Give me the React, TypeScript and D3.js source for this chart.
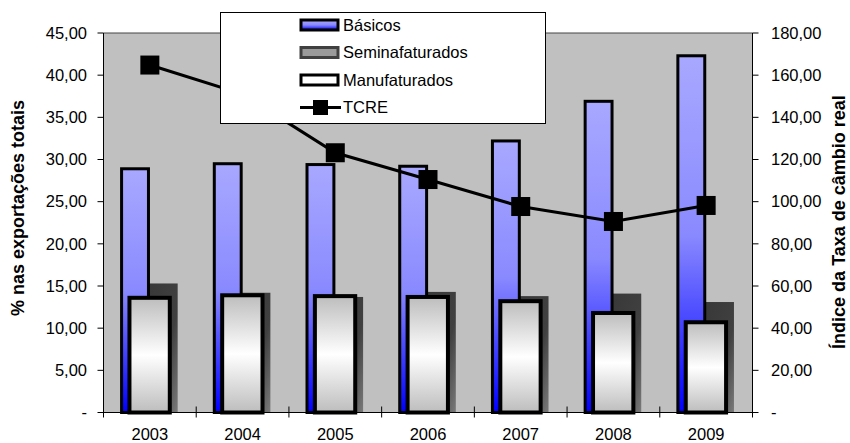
import { useMemo } from "react";
import * as d3 from "d3";

const years = ["2003", "2004", "2005", "2006", "2007", "2008", "2009"];
const basicos = [28.9, 29.5, 29.4, 29.2, 32.2, 36.9, 42.3];
const semi = [15.3, 14.2, 13.7, 14.3, 13.8, 14.1, 13.1];
const manu = [13.6, 13.9, 13.8, 13.7, 13.2, 11.8, 10.7];
const tcre = [164.8, 151, 123.2, 110.5, 97.7, 90.6, 98.2];

const leftTicks = [0, 5, 10, 15, 20, 25, 30, 35, 40, 45];
const rightTicks = [0, 20, 40, 60, 80, 100, 120, 140, 160, 180];
const legendItems = ["Básicos", "Seminafaturados", "Manufaturados", "TCRE"];

const W = 850;
const H = 443;
const PLOT = { left: 103.5, right: 752.5, top: 33, bottom: 412.5 };
const FONT = "'Liberation Sans', Arial, sans-serif";
const FS = 16.5;

const fmt = (v: number) => (v === 0 ? "-" : d3.format(",.2f")(v).replace(".", ","));

const App = () => {
    const x = useMemo(
        () => d3.scaleBand<string>().domain(years).range([PLOT.left, PLOT.right]).padding(0),
        []
    );
    const yL = useMemo(() => d3.scaleLinear().domain([0, 45]).range([PLOT.bottom, PLOT.top]), []);
    const yR = useMemo(() => d3.scaleLinear().domain([0, 180]).range([PLOT.bottom, PLOT.top]), []);
    const bw = x.bandwidth();

    const line = d3
        .line<number>()
        .x((_, i) => (x(years[i]) as number) + bw / 2)
        .y((d) => yR(d));

    // bar offsets inside each band (fractions of band width)
    const bas = { a: 0.195, b: 0.485 };
    const sem = { a: 0.48, b: 0.8 };
    const man = { a: 0.28, b: 0.715 };

    return (
        <svg width={W} height={H} style={{ position: "absolute", left: 0, top: 0, fontFamily: FONT }}>
            <defs>
                <linearGradient id="gBas" x1="0" y1="0" x2="0" y2="1">
                    <stop offset="0" stopColor="#a8a8ff" />
                    <stop offset="0.5" stopColor="#8a8aff" />
                    <stop offset="1" stopColor="#0000ff" />
                </linearGradient>
                <linearGradient id="gSem" x1="0" y1="0" x2="1" y2="1">
                    <stop offset="0" stopColor="#383838" />
                    <stop offset="0.6" stopColor="#404040" />
                    <stop offset="1" stopColor="#7a7a7a" />
                </linearGradient>
                <linearGradient id="gMan" x1="0" y1="0" x2="0" y2="1">
                    <stop offset="0" stopColor="#bdbdbd" />
                    <stop offset="0.5" stopColor="#ffffff" />
                    <stop offset="1" stopColor="#bdbdbd" />
                </linearGradient>
            </defs>

            <rect
                x={PLOT.left}
                y={PLOT.top}
                width={PLOT.right - PLOT.left}
                height={PLOT.bottom - PLOT.top}
                fill="#c0c0c0"
            />
            <line x1={PLOT.left} x2={PLOT.right} y1={PLOT.top} y2={PLOT.top} stroke="#444" strokeWidth={1} />

            {years.map((yr, i) => {
                const x0 = x(yr) as number;
                return (
                    <g key={yr}>
                        <rect
                            x={x0 + bw * sem.a}
                            y={yL(semi[i])}
                            width={bw * (sem.b - sem.a)}
                            height={PLOT.bottom - yL(semi[i])}
                            fill="url(#gSem)"
                        />
                        <rect
                            x={x0 + bw * bas.a}
                            y={yL(basicos[i])}
                            width={bw * (bas.b - bas.a)}
                            height={PLOT.bottom - yL(basicos[i])}
                            fill="url(#gBas)"
                            stroke="#000"
                            strokeWidth={3}
                        />
                        <rect
                            x={x0 + bw * man.a}
                            y={yL(manu[i])}
                            width={bw * (man.b - man.a)}
                            height={PLOT.bottom - yL(manu[i])}
                            fill="url(#gMan)"
                            stroke="#000"
                            strokeWidth={4}
                        />
                    </g>
                );
            })}

            <path d={line(tcre) || undefined} fill="none" stroke="#000" strokeWidth={3} />
            {tcre.map((v, i) => (
                <rect
                    key={i}
                    x={(x(years[i]) as number) + bw / 2 - 9.5}
                    y={yR(v) - 9.5}
                    width={19}
                    height={19}
                    fill="#000"
                />
            ))}

            {/* axes */}
            <line x1={PLOT.left} x2={PLOT.left} y1={PLOT.top} y2={PLOT.bottom} stroke="#000" />
            <line x1={PLOT.right} x2={PLOT.right} y1={PLOT.top} y2={PLOT.bottom} stroke="#000" />
            <line x1={PLOT.left} x2={PLOT.right} y1={PLOT.bottom} y2={PLOT.bottom} stroke="#000" />
            {leftTicks.map((t) => (
                <g key={"l" + t}>
                    <line x1={PLOT.left - 6} x2={PLOT.left} y1={yL(t)} y2={yL(t)} stroke="#000" />
                    <text x={87} y={yL(t)} dy="0.35em" textAnchor="end" fontSize={FS}>
                        {fmt(t)}
                    </text>
                </g>
            ))}
            {rightTicks.map((t) => (
                <g key={"r" + t}>
                    <line x1={PLOT.right} x2={PLOT.right + 6} y1={yR(t)} y2={yR(t)} stroke="#000" />
                    <text x={771} y={yR(t)} dy="0.35em" textAnchor="start" fontSize={FS}>
                        {fmt(t)}
                    </text>
                </g>
            ))}
            {[...years, "end"].map((yr, i) => {
                const xx = PLOT.left + i * bw;
                return <line key={"x" + yr} x1={xx} x2={xx} y1={PLOT.bottom - 6} y2={PLOT.bottom + 5} stroke="#000" />;
            })}
            {years.map((yr) => (
                <text key={"t" + yr} x={(x(yr) as number) + bw / 2} y={439.5} textAnchor="middle" fontSize={FS}>
                    {yr}
                </text>
            ))}

            <text
                transform={`translate(18,208) rotate(-90)`}
                textAnchor="middle"
                dy="0.35em"
                fontSize={18}
                fontWeight="bold"
            >
                % nas exportações totais
            </text>
            <text
                transform={`translate(839,222) rotate(-90)`}
                textAnchor="middle"
                dy="0.35em"
                fontSize={18}
                fontWeight="bold"
            >
                Índice da Taxa de câmbio real
            </text>

            {/* legend */}
            <g>
                <rect x={220.5} y={12.5} width={325} height={111} fill="#fff" stroke="#000" strokeWidth={1} />
                {legendItems.map((name, i) => {
                    const cy = 25 + i * 27.5;
                    let sym;
                    if (i === 0)
                        sym = <rect x={301} y={cy - 5} width={37} height={10} fill="url(#gBas)" stroke="#000" strokeWidth={3} />;
                    else if (i === 1)
                        sym = <rect x={301} y={cy - 5} width={37} height={10} fill="#9a9a9a" stroke="#404040" strokeWidth={3} />;
                    else if (i === 2)
                        sym = <rect x={301} y={cy - 5} width={37} height={10} fill="#fff" stroke="#000" strokeWidth={3} />;
                    else
                        sym = (
                            <g>
                                <line x1={300} x2={341} y1={cy} y2={cy} stroke="#000" strokeWidth={3} />
                                <rect x={313} y={cy - 7.5} width={15} height={15} fill="#000" />
                            </g>
                        );
                    return (
                        <g key={name}>
                            {sym}
                            <text x={343} y={cy} dy="0.35em" fontSize={FS}>
                                {name}
                            </text>
                        </g>
                    );
                })}
            </g>
        </svg>
    );
};

export default App;
